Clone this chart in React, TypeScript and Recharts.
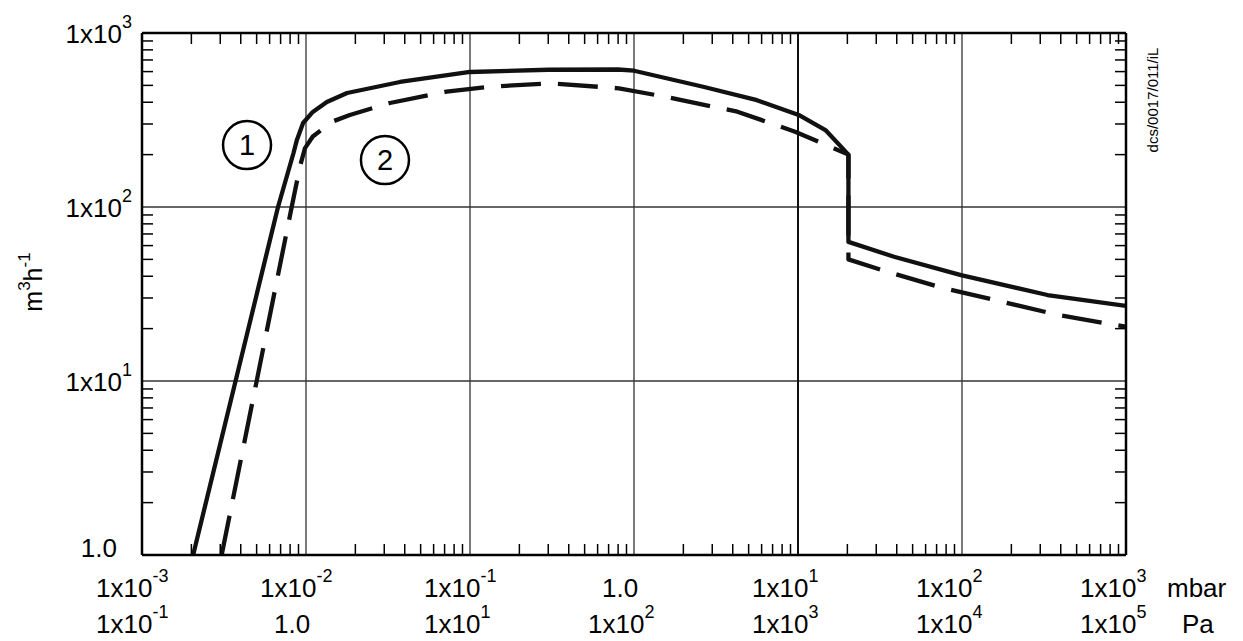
import { CartesianGrid, Label, Line, LineChart, ReferenceDot, ReferenceLine, XAxis, YAxis } from 'recharts'

// curve 1 (solid) - pressure in mbar, pumping speed in m3/h
const solidPressure = [0.00205, 0.00675, 0.0084, 0.0088, 0.0096, 0.011, 0.0134, 0.0178, 0.0374, 0.1, 0.3, 0.8, 1.0, 2.64, 5.62, 10.1, 14.7, 20.3, 20.3, 38.5, 98.6, 332, 1000]
const solidSpeed = [1, 100, 205, 243, 304, 352, 401, 452, 523, 597, 615, 617, 607, 491, 411, 338, 277, 200, 63, 51.8, 40.6, 31.2, 27]

// curve 2 (dashed)
const dashedPressure = [0.00306, 0.00818, 0.00919, 0.00986, 0.011, 0.0144, 0.0185, 0.0325, 0.072, 0.132, 0.308, 0.81, 1.55, 4.27, 9.6, 20.3, 20.3, 34.9, 77.6, 174, 390, 1000]
const dashedSpeed = [1, 100, 171, 218, 254, 309, 338, 396, 460, 491, 514, 481, 430, 353, 271, 200, 50, 42.5, 34.1, 28.6, 23.9, 20.5]

// circled curve numbers
const markerText = ['1', '2']
const markerPressure = [0.00437, 0.0303]
const markerSpeed = [227, 186]

// axis ticks
const decadeTicks = [0.001, 0.01, 0.1, 1, 10, 100, 1000]
const mbarExp = [-3, -2, -1, 0, 1, 2, 3]
const paExp = [-1, 0, 1, 2, 3, 4, 5]
const speedTicks = [1, 10, 100, 1000]
const speedExp = [0, 1, 2, 3]
const minorSteps = [2, 3, 4, 5, 6, 7, 8, 9]

const xMinor = decadeTicks.slice(0, -1).flatMap(d => minorSteps.map(m => +(d * m).toPrecision(2)))
const yMinor = speedTicks.slice(0, -1).flatMap(d => minorSteps.map(m => d * m))

const solidData = solidPressure.map((p, i) => ({ p, q: solidSpeed[i] }))
const dashedData = dashedPressure.map((p, i) => ({ p, q: dashedSpeed[i] }))

const FONT = '"Liberation Sans", Arial, Helvetica, sans-serif'

const powText = (e: number, x: number, y: number, anchor: 'start' | 'end') =>
    e === 0
        ? <text x={x} y={y} textAnchor={anchor} fontSize={26} fill="#000" fontFamily={FONT}>1.0</text>
        : <text x={x} y={y} textAnchor={anchor} fontSize={26} fill="#000" fontFamily={FONT}>
            1x10<tspan fontSize={18} dy={-15}>{e}</tspan>
        </text>

const XTick = (props: any) => {
    const { x, y, payload } = props
    const i = decadeTicks.indexOf(payload.value)
    const last = i === decadeTicks.length - 1
    const shift = (e: number) => (e === 0 ? 32 : 46)
    return (
        <g>
            {powText(mbarExp[i], x - shift(mbarExp[i]), y + 42, 'start')}
            {powText(paExp[i], x - shift(paExp[i]), y + 78, 'start')}
            {last && <text x={x + 41} y={y + 42} fontSize={26} fill="#000" fontFamily={FONT}>mbar</text>}
            {last && <text x={x + 56} y={y + 78} fontSize={26} fill="#000" fontFamily={FONT}>Pa</text>}
        </g>
    )
}

const YTick = (props: any) => {
    const { x, y, payload } = props
    const e = speedExp[speedTicks.indexOf(payload.value)]
    return e === 0 ? powText(0, x - 25, y + 2, 'end') : powText(e, x - 10, y + 10, 'end')
}

// minor axes only draw tick lines (tick={false} makes recharts skip the whole axis)
const NoTick = () => <g />

const YTitle = () => (
    <text transform="rotate(-90 42 282)" x={42} y={282} textAnchor="middle" fontSize={25} fill="#000" fontFamily={FONT}>
        m<tspan fontSize={17} dy={-12}>3</tspan><tspan dy={12}>h</tspan><tspan fontSize={17} dy={-12}>-1</tspan>
    </text>
)

const DrawingNo = () => (
    <text transform="rotate(-90 1158 100)" x={1158} y={100} textAnchor="middle" fontSize={15} fill="#000" fontFamily={FONT}>
        dcs/0017/011/iL
    </text>
)

const frame = { stroke: '#000', strokeWidth: 2.5 }
const minorTick = { stroke: '#000', strokeWidth: 1.5 }

const App = () => {
    return (
        <div style={{ position: 'absolute', left: 0, top: 0 }}>
            <LineChart
                width={1243}
                height={641}
                data={solidData}
                margin={{ top: 33, right: 117, left: 22, bottom: 26 }}
                style={{ fontFamily: FONT }}
            >
                <CartesianGrid stroke="#333" strokeWidth={1.3} />
                <XAxis
                    dataKey="p"
                    type="number"
                    scale="log"
                    domain={[0.001, 1000]}
                    allowDataOverflow
                    ticks={decadeTicks}
                    interval={0}
                    height={60}
                    tickSize={0}
                    tickMargin={0}
                    tickLine={false}
                    axisLine={frame}
                    tick={<XTick />}
                />
                <XAxis xAxisId="top" dataKey="p" orientation="top" mirror type="number" scale="log" domain={[0.001, 1000]}
                    allowDataOverflow ticks={xMinor} interval={0} tick={<NoTick />} tickSize={11} tickLine={minorTick} axisLine={frame} />
                <XAxis xAxisId="bottom2" dataKey="p" orientation="bottom" mirror type="number" scale="log" domain={[0.001, 1000]}
                    allowDataOverflow ticks={xMinor} interval={0} tick={<NoTick />} tickSize={11} tickLine={minorTick} axisLine={false} />
                <YAxis
                    type="number"
                    scale="log"
                    domain={[1, 1000]}
                    allowDataOverflow
                    ticks={speedTicks}
                    interval={0}
                    width={120}
                    tickSize={0}
                    tickMargin={0}
                    tickLine={false}
                    axisLine={frame}
                    tick={<YTick />}
                >
                    <Label content={<YTitle />} />
                </YAxis>
                <YAxis yAxisId="left2" dataKey="q" orientation="left" mirror type="number" scale="log" domain={[1, 1000]}
                    allowDataOverflow ticks={yMinor} interval={0} tick={<NoTick />} tickSize={11} tickLine={minorTick} axisLine={false} />
                <YAxis yAxisId="right" dataKey="q" orientation="right" mirror type="number" scale="log" domain={[1, 1000]}
                    allowDataOverflow ticks={yMinor} interval={0} tick={<NoTick />} tickSize={11} tickLine={minorTick} axisLine={frame}>
                    <Label content={<DrawingNo />} />
                </YAxis>
                <ReferenceLine x={10} stroke="#111" strokeWidth={2} />
                <Line data={solidData} dataKey="q" type="linear" stroke="#111" strokeWidth={4.3} dot={false}
                    isAnimationActive={false} strokeLinejoin="round" />
                <Line data={dashedData} dataKey="q" type="linear" stroke="#111" strokeWidth={4.3} dot={false}
                    strokeDasharray="40 17" isAnimationActive={false} strokeLinejoin="round" />
                {markerText.map((t, i) => (
                    <ReferenceDot key={t} x={markerPressure[i]} y={markerSpeed[i]} r={24} fill="#fff" stroke="#000" strokeWidth={2.5}>
                        <Label value={t} position="center" fontSize={29} fill="#000" fontFamily={FONT} />
                    </ReferenceDot>
                ))}
            </LineChart>
        </div>
    )
}

export default App
